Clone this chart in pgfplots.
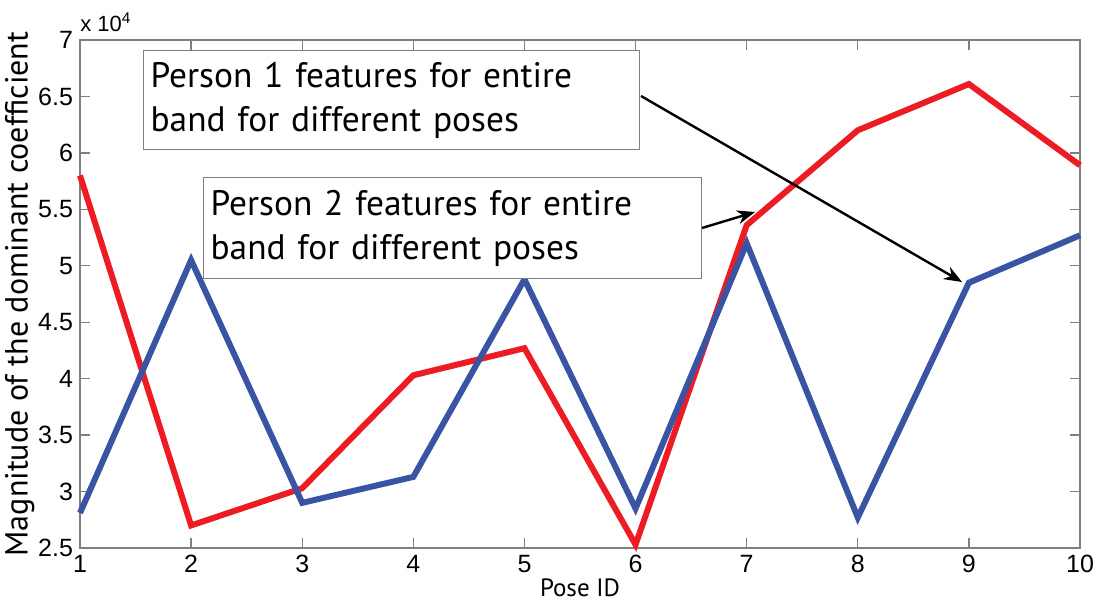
\documentclass[border=0pt]{standalone}
\usepackage{pgfplots}
\pgfplotsset{compat=1.18}
\usepackage{fontspec}
\setmainfont{Liberation Sans}
\newfontfamily\myr{PT Sans}
\usetikzlibrary{arrows.meta}
\definecolor{pred}{RGB}{237,28,36}
\definecolor{pblue}{RGB}{58,84,164}
\definecolor{axgray}{RGB}{128,128,128}
\begin{document}
\begin{tikzpicture}
\begin{axis}[
    name=ax,
    scale only axis,
    width=500pt, height=254pt,
    xmin=1, xmax=10, ymin=2.5, ymax=7,
    xtick={1,...,10},
    ytick={2.5,3,...,7},
    yticklabels={2.5,3,3.5,4,4.5,5,5.5,6,6.5,7},
    tick align=inside,
    major tick length=5pt,
    axis line style={axgray, line width=0.7pt},
    tick style={axgray, line width=0.7pt},
    ticklabel style={font=\fontsize{12.5}{14}\selectfont},
    /pgf/number format/assume math mode=true,
    xlabel={\myr\fontsize{12.5}{14}\selectfont Pose ID},
    ylabel={\myr\fontsize{16}{18}\selectfont Magnitude of the dominant coefficient},
    xlabel style={yshift=4pt},
    ylabel style={yshift=-5pt},
    clip=false,
]
\addplot[pred, line width=3pt, line join=miter] coordinates {
    (1,5.80) (2,2.70) (3,3.03) (4,4.03) (5,4.27)
    (6,2.53) (7,5.36) (8,6.20) (9,6.61) (10,5.89)};
\addplot[pblue, line width=3pt, line join=miter] coordinates {
    (1,2.81) (2,5.05) (3,2.90) (4,3.13) (5,4.88)
    (6,2.85) (7,5.20) (8,2.77) (9,4.85) (10,5.27)};
\end{axis}
% exponent label
\node[anchor=south west, inner sep=0pt, font=\fontsize{11}{12}\selectfont]
    at ([xshift=0pt,yshift=4pt]ax.north west) {x 10\textsuperscript{4}};
% annotations, placed in reference pixels (1px = 0.5pt) from the image's top-left
\begin{scope}[shift={([xshift=-40pt,yshift=274pt]ax.south west)}, x=0.5pt, y=-0.5pt]
  \draw[-{Stealth[length=9pt,width=7pt]}, line width=1.2pt] (641,96) -- (962,282);
  \draw[-{Stealth[length=9pt,width=7pt]}, line width=1.2pt] (702,228) -- (755,212);
  \node[draw=axgray, fill=white, line width=0.6pt, anchor=north west,
        text width=241pt, minimum height=49.5pt, inner xsep=3.5pt, align=left,
        font=\myr\fontsize{17.7}{22}\selectfont] at (143,50)
        {Person 1 features for entire\\band for different poses};
  \node[draw=axgray, fill=white, line width=0.6pt, anchor=north west,
        text width=242pt, minimum height=50.5pt, inner xsep=3.5pt, align=left,
        font=\myr\fontsize{17.7}{22}\selectfont] at (203,177)
        {Person 2 features for entire\\band for different poses};
\end{scope}
\pgfresetboundingbox
\path[use as bounding box] ([xshift=-40pt,yshift=-28pt]ax.south west)
    rectangle ([xshift=9.5pt,yshift=20pt]ax.north east);
\end{tikzpicture}
\end{document}
